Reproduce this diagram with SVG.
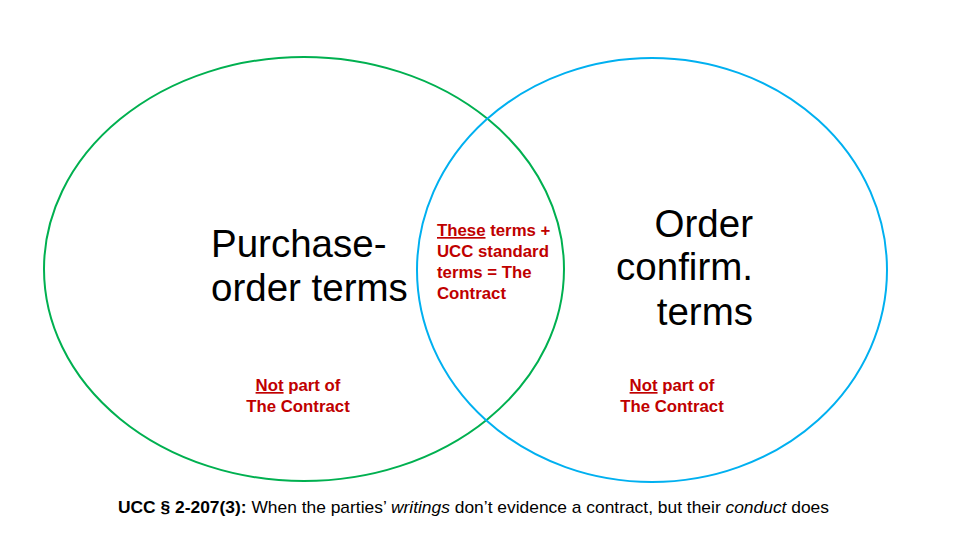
<svg xmlns="http://www.w3.org/2000/svg" width="960" height="540" viewBox="0 0 960 540">
<style>
.big{font-family:"Liberation Sans",Arial,sans-serif;font-size:38.5px;fill:#000}
.red{font-family:"Liberation Sans",Arial,sans-serif;font-size:16.8px;font-weight:bold;fill:#C00000}
.cap{font-family:"Liberation Sans",Arial,sans-serif;font-size:17px;fill:#000}
</style>
<rect width="960" height="540" fill="#fff"/>
<g id="po">
<ellipse cx="304" cy="269" rx="260" ry="212" fill="none" stroke="#00B050" stroke-width="2"/>
<text class="big" x="211" y="257">Purchase-</text>
<text class="big" x="211" y="301">order terms</text>
<text class="red" x="298" y="391" text-anchor="middle"><tspan text-decoration="underline">Not</tspan> part of</text>
<text class="red" x="298" y="412" text-anchor="middle">The Contract</text>
</g>
<g id="oc">
<ellipse cx="652" cy="270" rx="235" ry="212" fill="none" stroke="#00B0F0" stroke-width="2"/>
<text class="big" x="753" y="237" text-anchor="end">Order</text>
<text class="big" x="753" y="280" text-anchor="end">confirm.</text>
<text class="big" x="753" y="325" text-anchor="end">terms</text>
<text class="red" x="672" y="391" text-anchor="middle"><tspan text-decoration="underline">Not</tspan> part of</text>
<text class="red" x="672" y="412" text-anchor="middle">The Contract</text>
</g>
<g id="overlap">
<text class="red" x="437" y="236"><tspan text-decoration="underline">These</tspan> terms +</text>
<text class="red" x="437" y="257">UCC standard</text>
<text class="red" x="437" y="278">terms = The</text>
<text class="red" x="437" y="299">Contract</text>
</g>
<g id="connectors"/>
<g id="caption">
<text class="cap" x="118" y="513" textLength="711" lengthAdjust="spacingAndGlyphs"><tspan font-weight="bold">UCC § 2-207(3):</tspan> When the parties’ <tspan font-style="italic">writings</tspan> don’t evidence a contract, but their <tspan font-style="italic">conduct</tspan> does</text>
</g>
</svg>
